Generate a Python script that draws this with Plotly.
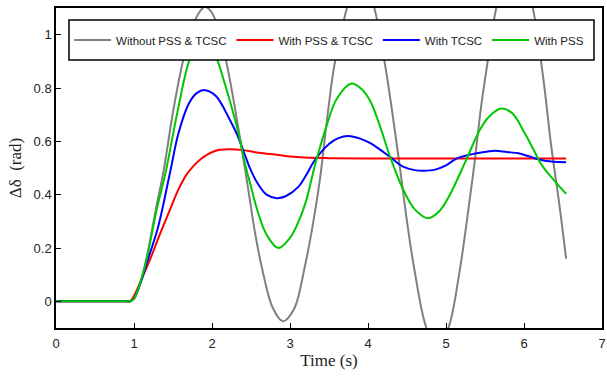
import plotly.graph_objects as go

# Without PSS & TCSC (gray)
t_gray = [0, 0.5, 0.9, 0.95, 1.0, 1.08, 1.16, 1.29, 1.38, 1.5, 1.63, 1.75, 1.84, 1.91, 1.98, 2.05, 2.12,
          2.19, 2.30, 2.41, 2.47, 2.55, 2.64, 2.78, 2.91, 3.05, 3.19, 3.30, 3.385, 3.47, 3.56, 3.65,
          3.73, 3.82, 3.91, 4.0, 4.09, 4.17, 4.25, 4.33, 4.41, 4.5, 4.6, 4.75, 4.89, 5.03, 5.17,
          5.31, 5.37, 5.45, 5.54, 5.63, 5.75, 5.87, 6.0, 6.12, 6.25, 6.35, 6.45, 6.54]
v_gray = [0, 0, 0, 0, 0.01, 0.07, 0.16, 0.36, 0.49, 0.71, 0.904, 1.03, 1.085, 1.105, 1.09, 1.05, 0.98,
          0.89, 0.715, 0.52, 0.41, 0.26, 0.126, -0.025, -0.075, -0.03, 0.13, 0.30, 0.46, 0.67, 0.87,
          1.0, 1.10, 1.17, 1.20, 1.17, 1.09, 0.97, 0.83, 0.67, 0.50, 0.30, 0.11, -0.10, -0.17, -0.10,
          0.105, 0.395, 0.53, 0.73, 0.91, 1.08, 1.22, 1.28, 1.23, 1.09, 0.83, 0.58, 0.37, 0.16]

# With PSS & TCSC (red)
t_red = [0, 0.5, 0.9, 0.95, 1.0, 1.1, 1.205, 1.33, 1.46, 1.57, 1.68, 1.77, 1.85, 1.95, 2.05, 2.2, 2.4,
         2.6, 2.85, 3.0, 3.19, 3.5, 4.0, 5.0, 6.0, 6.54]
v_red = [0, 0, 0, 0, 0.02, 0.085, 0.156, 0.25, 0.343, 0.42, 0.478, 0.51, 0.532, 0.552, 0.565, 0.570,
         0.567, 0.557, 0.549, 0.543, 0.539, 0.537, 0.536, 0.536, 0.536, 0.536]

# With TCSC (blue)
t_blue = [0, 0.5, 0.9, 0.95, 1.0, 1.08, 1.16, 1.31, 1.46, 1.57, 1.7, 1.8, 1.91, 2.05, 2.23, 2.33,
          2.42, 2.5, 2.59, 2.7, 2.83, 2.95, 3.11, 3.2, 3.32, 3.5, 3.62, 3.75, 3.9, 4.03, 4.15, 4.28,
          4.45, 4.6, 4.71, 4.85, 5.0, 5.14, 5.35, 5.52, 5.63, 5.78, 5.93, 6.05, 6.18, 6.35, 6.54]
v_blue = [0, 0, 0, 0, 0.01, 0.065, 0.14, 0.28, 0.48, 0.63, 0.74, 0.78, 0.792, 0.77, 0.68, 0.62,
          0.55, 0.49, 0.44, 0.40, 0.387, 0.395, 0.43, 0.47, 0.53, 0.59, 0.612, 0.62, 0.61, 0.593,
          0.57, 0.542, 0.505, 0.492, 0.49, 0.493, 0.51, 0.536, 0.553, 0.561, 0.565, 0.56, 0.555,
          0.545, 0.533, 0.524, 0.522]

# With PSS (green)
t_green = [0, 0.5, 0.9, 0.95, 1.0, 1.08, 1.16, 1.29, 1.41, 1.55, 1.71, 1.80, 1.9, 2.0, 2.08, 2.17,
           2.25, 2.34, 2.42, 2.5, 2.59, 2.7, 2.85, 3.0, 3.11, 3.2, 3.32, 3.45, 3.6, 3.79, 3.92, 4.03,
           4.15, 4.28, 4.45, 4.6, 4.77, 4.92, 5.05, 5.24, 5.44, 5.56, 5.71, 5.85, 6.01, 6.12, 6.23,
           6.40, 6.54]
v_green = [0, 0, 0, 0, 0.01, 0.07, 0.156, 0.343, 0.49, 0.70, 0.904, 0.95, 0.962, 0.945, 0.895, 0.81,
           0.73, 0.63, 0.52, 0.43, 0.333, 0.25, 0.20, 0.238, 0.30, 0.37, 0.51, 0.64, 0.76, 0.817,
           0.795, 0.75, 0.66, 0.545, 0.42, 0.345, 0.312, 0.34, 0.40, 0.518, 0.646, 0.695, 0.723,
           0.705, 0.63, 0.57, 0.51, 0.449, 0.403]

x_ticks = [0, 1, 2, 3, 4, 5, 6, 7]
y_ticks = [0, 0.2, 0.4, 0.6, 0.8, 1]
y_tick_labels = ["0", "0.2", "0.4", "0.6", "0.8", "1"]

series = [
    ("Without PSS & TCSC", t_gray, v_gray, "#808080"),
    ("With PSS & TCSC", t_red, v_red, "#ff0000"),
    ("With TCSC", t_blue, v_blue, "#0000ff"),
    ("With PSS", t_green, v_green, "#00c800"),
]

fig = go.Figure()
for name, t, v, c in series:
    fig.add_trace(go.Scatter(x=t, y=v, mode="lines", name=name,
                             line=dict(color=c, width=2, shape="spline", smoothing=1.0)))

sans = "Liberation Sans, Arial"
axis_common = dict(showline=True, linecolor="black", linewidth=1.5, mirror=True,
                   ticks="inside", ticklen=5, tickcolor="black", showgrid=False, zeroline=False,
                   automargin=False,
                   tickfont=dict(family=sans, size=13, color="#222"))

# legend frame (drawn as a box above the traces, under the legend entries)
fig.add_shape(type="rect", xref="paper", yref="paper", x0=0.0238, x1=0.9853, y0=0.8375, y1=0.9625,
              fillcolor="white", line=dict(color="black", width=1.5), layer="above")

fig.update_layout(
    width=607, height=379,
    margin=dict(l=56, r=5, t=8, b=51),
    paper_bgcolor="white", plot_bgcolor="white",
    xaxis=dict(range=[0, 7], tickvals=x_ticks, ticklabeloverflow="allow", ticklabelstandoff=3,
               **axis_common,
               title=dict(text="Time (s)", font=dict(family="Liberation Serif", size=17, color="#222"),
                          standoff=4)),
    yaxis=dict(range=[-0.1, 1.1], tickvals=y_ticks, ticktext=y_tick_labels, **axis_common,
               title=dict(text="Δδ  (rad)", font=dict(family="Liberation Serif", size=17, color="#222"),
                          standoff=8)),
    legend=dict(orientation="h", x=0.024, y=0.9, xanchor="left", yanchor="middle",
                bgcolor="rgba(0,0,0,0)", borderwidth=0,
                font=dict(family=sans, size=11.5, color="#222"),
                itemwidth=37),
    showlegend=True,
)

fig.write_html("out.html",
               config={"displayModeBar": False},
               post_script="document.body.style.margin='0';document.body.style.overflow='hidden';")
